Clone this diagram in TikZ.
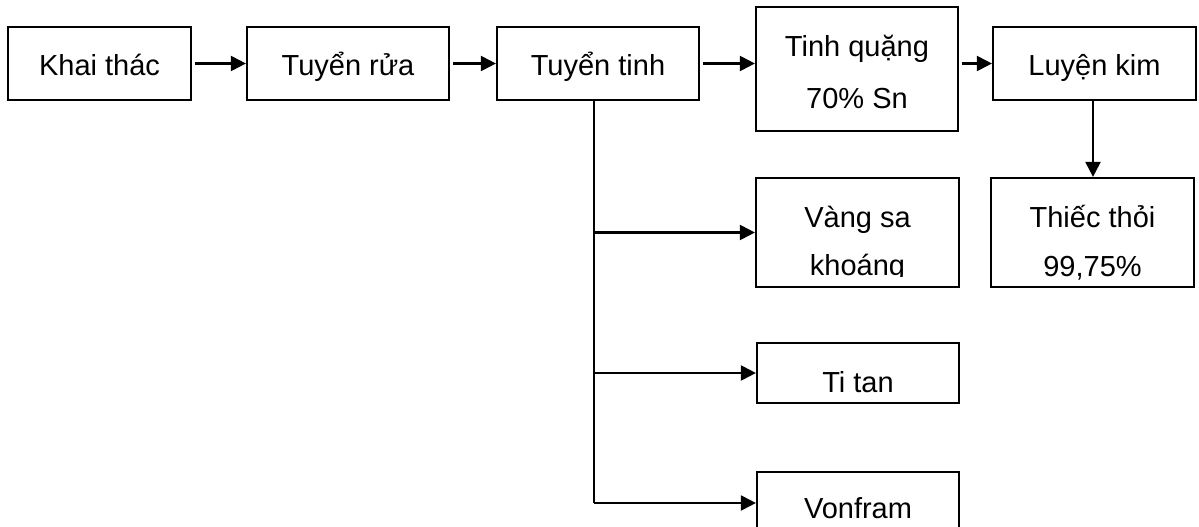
\documentclass[tikz,border=0pt]{standalone}
\usepackage{fontspec}
\setmainfont{Liberation Sans}
\usetikzlibrary{arrows.meta}
\begin{document}
\begin{tikzpicture}[x=1pt,y=-1pt,
  box/.style={draw, line width=2.2pt, inner sep=0pt},
  lbl/.style={anchor=base, inner sep=0pt, font=\fontsize{29}{34}\selectfont},
  conn/.style={line width=2.1pt},
  arr/.style={conn, -{Triangle[length=15pt,width=15pt]}, shorten <=3pt}]
\useasboundingbox (0,0) rectangle (1199,527);
% boxes
\node[box, minimum width=183pt, minimum height=73pt] (kt) at (99.5,63.5) {};
\node[box, minimum width=202pt, minimum height=73pt] (tr) at (348,63.5) {};
\node[box, minimum width=202pt, minimum height=73pt] (tt) at (598,63.5) {};
\node[box, minimum width=202pt, minimum height=124pt] (tq) at (857,69) {};
\node[box, minimum width=203pt, minimum height=73pt] (lk) at (1094.5,63.5) {};
\node[box, minimum width=203pt, minimum height=109pt] (th) at (1092.5,232.5) {};
\node[box, minimum width=203pt, minimum height=109pt] (vs) at (857.5,232.5) {};
\node[box, minimum width=202pt, minimum height=60pt] (ti) at (858,373) {};
\node[box, minimum width=202pt, minimum height=62pt] (vf) at (858,503) {};
% labels
\node[lbl] (lkt) at (99.5,75) {Khai thác};
\node[lbl] (ltr) at (348,75) {Tuyển rửa};
\node[lbl] (ltt) at (598,75) {Tuyển tinh};
\node[lbl] (ltq1) at (857,57) {Tinh quặng};
\node[lbl] (ltq2) at (857,108) {70\% Sn};
\node[lbl] (llk) at (1094.5,75) {Luyện kim};
\node[lbl] (lth1) at (1092.5,227) {Thiếc thỏi};
\node[lbl] (lth2) at (1092.5,276) {99,75\%};
\node[lbl] (lvs1) at (857.5,227) {Vàng sa};
\begin{scope}
  \clip (757,180) rectangle (958,276);
  \node[lbl] (lvs2) at (857.5,275) {khoáng};
\end{scope}
\node[lbl] (lti) at (858,392) {Ti tan};
\begin{scope}
  \clip (758,474) rectangle (958,518);
  \node[lbl] (lvf) at (858,518.5) {Vonfram};
\end{scope}
% connectors
\draw[arr] (kt.east) -- (tr.west);
\draw[arr] (tr.east) -- (tt.west);
\draw[arr] (tt.east) -- (tt.east -| tq.west);
\draw[arr] (tq.east |- lk.west) -- (lk.west);
\draw[arr, shorten <=0pt] (lk.south -| 1093,0) -- (th.north -| 1093,0);
\coordinate (tk) at (594,503);
\draw[conn] (tt.south -| tk) -- (tk);
\draw[arr, shorten <=0pt] (tk |- vs.west) -- (vs.west);
\draw[arr, shorten <=0pt] (tk |- ti.west) -- (ti.west);
\draw[arr, shorten <=0pt] (tk) -- (vf.west);
\end{tikzpicture}
\end{document}
